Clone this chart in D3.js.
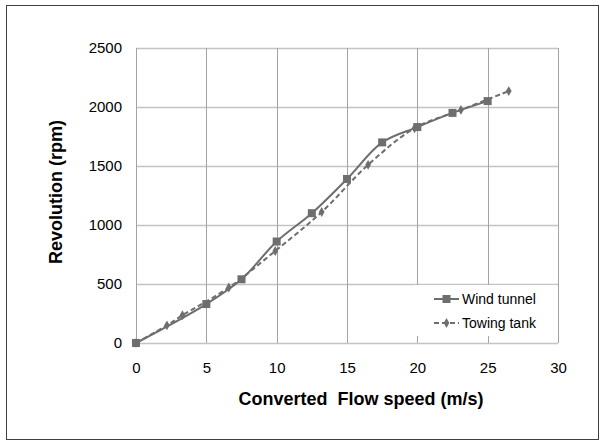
<!DOCTYPE html>
<html>
<head>
<meta charset="utf-8">
<script src="https://cdn.jsdelivr.net/npm/d3@7"></script>
<style>
  html, body { margin: 0; padding: 0; background: #fff; }
  svg { display: block; }
  text { font-family: "Liberation Sans", Arial, sans-serif; fill: #000; }
</style>
</head>
<body>
<script>
// ---- data ----
const windSpeed = [0, 5, 7.5, 10, 12.5, 15, 17.5, 20, 22.5, 25];
const windRpm   = [0, 330, 540, 860, 1100, 1390, 1700, 1830, 1950, 2050];
const towSpeed  = [0, 2.2, 3.3, 6.6, 9.9, 13.2, 16.5, 19.8, 23.1, 26.5];
const towRpm    = [0, 150, 235, 470, 780, 1110, 1510, 1820, 1975, 2135];
const xTicks = [0, 5, 10, 15, 20, 25, 30];
const yTicks = [0, 500, 1000, 1500, 2000, 2500];
const seriesNames = ["Wind tunnel", "Towing tank"];
const xTitle = "Converted  Flow speed (m/s)";
const yTitle = "Revolution (rpm)";

const W = 606, H = 443;
const svg = d3.select("body").append("svg").attr("width", W).attr("height", H);

// outer frame
svg.append("rect").attr("x", 6.5).attr("y", 5.5).attr("width", 592).attr("height", 434)
  .attr("fill", "#fff").attr("stroke", "#404040").attr("stroke-width", 1);

const x = d3.scaleLinear().domain([0, 30]).range([136, 558]);
const y = d3.scaleLinear().domain([0, 2500]).range([343, 48]);

// gridlines
svg.append("g").selectAll("line").data(yTicks).join("line")
  .attr("x1", x(0)).attr("x2", x(30))
  .attr("y1", d => Math.round(y(d)) + 0.5).attr("y2", d => Math.round(y(d)) + 0.5)
  .attr("stroke", "#c4c4c4").attr("stroke-width", 1.3);
svg.append("g").selectAll("line").data(xTicks).join("line")
  .attr("x1", d => Math.round(x(d)) + 0.5).attr("x2", d => Math.round(x(d)) + 0.5)
  .attr("y1", y(0)).attr("y2", y(2500))
  .attr("stroke", "#a4a4a4").attr("stroke-width", 1);

// axes (labels only)
const xAxis = svg.append("g").attr("transform", `translate(0,${y(0)})`)
  .call(d3.axisBottom(x).tickValues(xTicks).tickSize(0).tickPadding(19).tickFormat(d3.format("d")));
xAxis.select(".domain").remove();
xAxis.selectAll("text").style("font-size", "15px").style("font-family", "Liberation Sans, Arial, sans-serif").attr("fill", "#000");

const yAxis = svg.append("g").attr("transform", `translate(${x(0)},0)`)
  .call(d3.axisLeft(y).tickValues(yTicks).tickSize(0).tickPadding(14).tickFormat(d3.format("d")));
yAxis.select(".domain").remove();
yAxis.selectAll("text").style("font-size", "15px").style("font-family", "Liberation Sans, Arial, sans-serif").attr("fill", "#000");

// axis titles
svg.append("text").attr("x", 361).attr("y", 405).attr("text-anchor", "middle")
  .attr("xml:space", "preserve").style("white-space", "pre")
  .style("font-size", "18px").style("font-weight", "bold").text(xTitle);
svg.append("text").attr("transform", "translate(62,192) rotate(-90)").attr("text-anchor", "middle")
  .style("font-size", "18px").style("font-weight", "bold").text(yTitle);

const col = "#6e6e6e";
const line = d3.line().x(d => x(d[0])).y(d => y(d[1])).curve(d3.curveCatmullRom.alpha(0.5));

const wind = windSpeed.map((s, i) => [s, windRpm[i]]);
const tow = towSpeed.map((s, i) => [s, towRpm[i]]);

svg.append("path").datum(tow).attr("d", line).attr("fill", "none")
  .attr("stroke", col).attr("stroke-width", 2).attr("stroke-dasharray", "5,3");
svg.append("path").datum(wind).attr("d", line).attr("fill", "none")
  .attr("stroke", col).attr("stroke-width", 2);

const diamond = d3.symbol().type(d3.symbolDiamond).size(28);
svg.append("g").selectAll("path").data(tow).join("path")
  .attr("transform", d => `translate(${x(d[0])},${y(d[1])})`).attr("d", diamond).attr("fill", col);
svg.append("g").selectAll("rect").data(wind).join("rect")
  .attr("x", d => x(d[0]) - 4).attr("y", d => y(d[1]) - 4).attr("width", 8).attr("height", 8).attr("fill", col);

// legend
const lg = svg.append("g");
lg.append("rect").attr("x", 414).attr("y", 285).attr("width", 142).attr("height", 51).attr("fill", "#fff");
const ly = [299, 323];
// wind tunnel
lg.append("line").attr("x1", 434).attr("x2", 459).attr("y1", ly[0]).attr("y2", ly[0]).attr("stroke", col).attr("stroke-width", 2);
lg.append("rect").attr("x", 442.5).attr("y", ly[0] - 4).attr("width", 8).attr("height", 8).attr("fill", col);
lg.append("text").attr("x", 462).attr("y", ly[0] + 5).style("font-size", "14px").text(seriesNames[0]);
// towing tank
lg.append("line").attr("x1", 434).attr("x2", 459).attr("y1", ly[1]).attr("y2", ly[1]).attr("stroke", col).attr("stroke-width", 2).attr("stroke-dasharray", "5,3");
lg.append("path").attr("transform", `translate(446.5,${ly[1]})`).attr("d", diamond).attr("fill", col);
lg.append("text").attr("x", 462).attr("y", ly[1] + 5).style("font-size", "14px").text(seriesNames[1]);
</script>
</body>
</html>
